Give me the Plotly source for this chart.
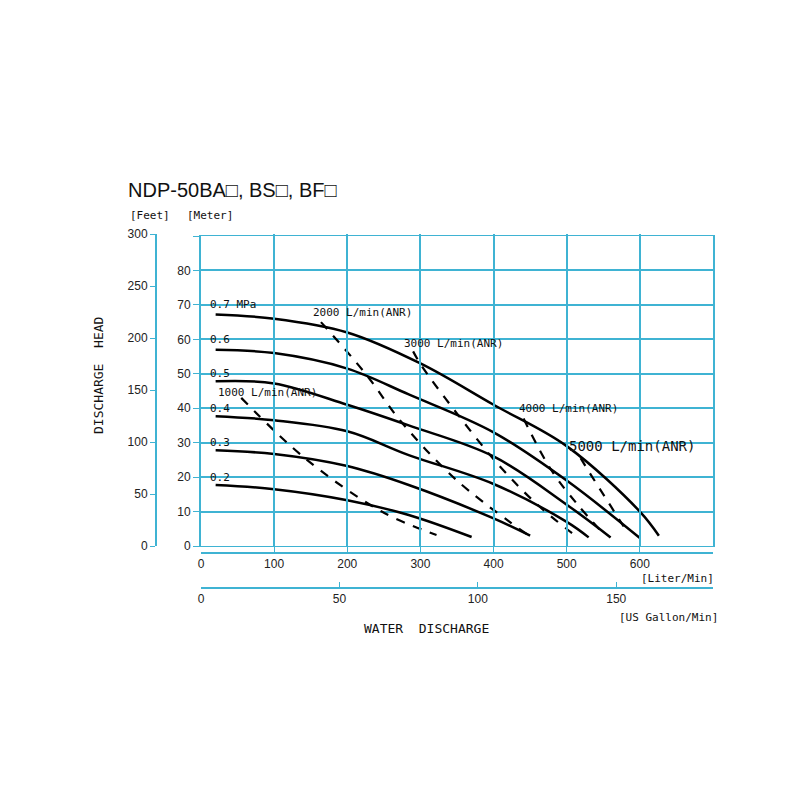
import plotly.graph_objects as go

# Pump curves (flow L/min, head m) per air pressure
pressures = ["0.7 MPa", "0.6", "0.5", "0.4", "0.3", "0.2"]
curve_flow = [
    [20, 100, 200, 300, 400, 500, 600, 626],
    [20, 100, 200, 284, 400, 500, 600],
    [20, 100, 200, 284, 400, 500, 560],
    [20, 100, 200, 284, 400, 500, 530],
    [20, 100, 200, 284, 400, 450],
    [20, 100, 200, 284, 370],
]
curve_head = [
    [67.2, 66, 62, 53, 41, 29, 10, 3],
    [57, 56, 51.5, 44, 33, 19, 2.3],
    [47.8, 47.2, 41, 35, 26, 12, 2.5],
    [37.7, 36.5, 33.3, 26.4, 18, 7, 2.5],
    [27.8, 26.7, 23.2, 17.7, 8, 3],
    [17.7, 16.5, 13.3, 9, 2.6],
]
label_head = [70, 60, 50, 40, 30, 20]

# Air consumption lines
air_labels = ["1000 L/min(ANR)", "2000 L/min(ANR)", "3000 L/min(ANR)", "4000 L/min(ANR)", "5000 L/min(ANR)"]
air_flow = [
    [55, 142, 247, 322],
    [164, 225, 274, 350, 445],
    [290, 301, 348, 407, 460, 516],
    [441, 479, 515, 547],
    [519, 530, 550, 581],
]
air_head = [
    [43, 25.5, 10, 3.2],
    [65, 50, 36, 19, 3.5],
    [56.5, 52.5, 39, 23.5, 12, 2.3],
    [37, 22, 12, 4.3],
    [25.5, 21.7, 15, 4.6],
]
air_label_pos = [(20, 44.6), (150, 67.8), (275, 58.8), (432, 40), (501, 29)]

meter_ticks = [0, 10, 20, 30, 40, 50, 60, 70, 80]
feet_ticks = [0, 50, 100, 150, 200, 250, 300]
liter_ticks = [0, 100, 200, 300, 400, 500, 600]
gallon_ticks = [0, 50, 100, 150]

cyan = "#3fb3d3"
tfont = dict(family="Liberation Sans", size=12, color="#222")
mfont = dict(family="DejaVu Sans Mono", size=11, color="#111")

fig = go.Figure()
for f, h in zip(curve_flow, curve_head):
    fig.add_trace(go.Scatter(x=f, y=h, mode="lines", line=dict(color="black", width=2.5, shape="spline"),
                             showlegend=False, hoverinfo="skip"))
for f, h in zip(air_flow, air_head):
    fig.add_trace(go.Scatter(x=f, y=h, mode="lines", line=dict(color="black", width=2.2, dash="dash", shape="spline"),
                             showlegend=False, hoverinfo="skip"))

fig.add_trace(go.Scatter(x=[None], y=[None], yaxis="y2", showlegend=False))
fig.add_trace(go.Scatter(x=[None], y=[None], xaxis="x2", showlegend=False))
fig.add_trace(go.Scatter(x=[None], y=[None], xaxis="x3", showlegend=False))

for p, yv in zip(pressures, label_head):
    fig.add_annotation(x=10, y=yv, text=p, showarrow=False, xanchor="left", yanchor="middle", font=mfont)
for i, (lab, (xv, yv)) in enumerate(zip(air_labels, air_label_pos)):
    fig.add_annotation(x=xv, y=yv, text=lab, showarrow=False, xanchor="left", yanchor="middle",
                       font=dict(family="DejaVu Sans Mono", size=14 if i == 4 else 11, color="#111"))

L, R, T, B = 140, 95, 226, 220
W = 800 - L - R
H = 800 - T - B
ydom0 = (580 - 538) / H
ydom1 = (580 - 228) / H
xdom0 = (193 - L) / W

fig.update_layout(
    width=800, height=800, margin=dict(l=L, r=R, t=T, b=B, autoexpand=False),
    paper_bgcolor="white", plot_bgcolor="rgba(0,0,0,0)",
    xaxis=dict(range=[0, 700], domain=[xdom0, 1], tickvals=liter_ticks, showticklabels=False,
               showgrid=True, gridcolor=cyan, gridwidth=1.5, showline=True, linecolor=cyan, mirror=True,
               zeroline=False, ticks=""),
    yaxis=dict(range=[0, 90], domain=[ydom0, ydom1], tickvals=meter_ticks + [90], ticktext=[str(v) for v in meter_ticks] + [""],
               showgrid=True, gridcolor=cyan, gridwidth=1.5, showline=True, linecolor=cyan, linewidth=2, mirror=True,
               zeroline=False, ticks="outside", tickcolor=cyan, ticklen=6, tickfont=tfont),
    yaxis2=dict(range=[0, 300], domain=[ydom0, 1], anchor="free", position=(148 - L) / W, tickvals=feet_ticks,
                showgrid=False, showline=True, linecolor=cyan, linewidth=2, ticks="outside", tickcolor=cyan,
                ticklen=5, tickfont=tfont, zeroline=False),
    xaxis2=dict(range=[0, 700], domain=[xdom0, 1], anchor="free", position=(580 - 545) / H, tickvals=liter_ticks,
                showgrid=False, showline=True, linecolor=cyan, linewidth=2, ticks="inside", tickcolor=cyan,
                ticklen=5, tickfont=tfont, zeroline=False, side="bottom", overlaying="x"),
    xaxis3=dict(range=[0, 700 / 3.785], domain=[xdom0, 1], anchor="free", position=0, tickvals=gallon_ticks,
                showgrid=False, showline=True, linecolor=cyan, linewidth=2, ticks="inside", tickcolor=cyan,
                ticklen=5, tickfont=tfont, zeroline=False, side="bottom", overlaying="x"),
)

def px(x, y, text, size=12, xa="left", ya="middle", angle=0, fam="DejaVu Sans Mono"):
    fig.add_annotation(xref="paper", yref="paper", x=(x - L) / W, y=(800 - B - y) / H, text=text,
                       showarrow=False, xanchor=xa, yanchor=ya, textangle=angle,
                       font=dict(family=fam, size=size, color="#111"))

px(118, 182, "NDP-50BA□, BS□, BF□", size=20, fam="Liberation Sans")
px(120, 208, "[Feet]", size=11)
px(177, 208, "[Meter]", size=11)
px(90, 367, "DISCHARGE  HEAD", size=13, xa="center", angle=-90)
px(418, 620, "WATER  DISCHARGE", size=13, xa="center")
px(708, 570, "[Liter/Min]", size=11, xa="right")
px(712, 609, "[US Gallon/Min]", size=11, xa="right")

fig.write_html("out.html")
